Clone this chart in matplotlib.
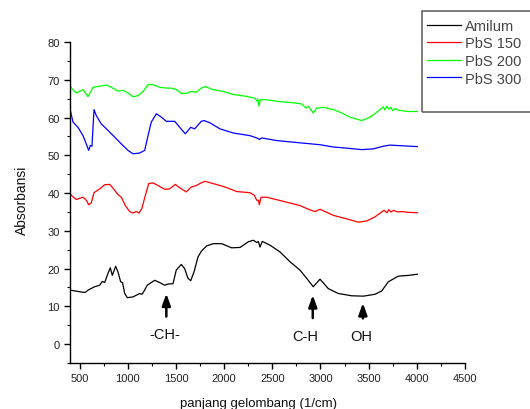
import matplotlib
matplotlib.use("Agg")
import matplotlib.pyplot as plt
from matplotlib.ticker import MultipleLocator
from matplotlib.patches import Rectangle

plt.rcParams['font.family'] = ['Liberation Sans', 'DejaVu Sans']

# ---- data ----
x_amilum = [400, 449, 517, 559, 587, 656, 708, 735, 760, 794, 818, 839, 874, 898, 926,
            945, 968, 995, 1054, 1123, 1147, 1168, 1202, 1244, 1279, 1331, 1383, 1417, 1469, 1503,
            1555, 1590, 1625, 1653, 1687, 1729, 1763, 1818, 1887, 1974, 2078, 2165, 2251, 2303, 2340,
            2355, 2372, 2396, 2476, 2580, 2684, 2787, 2857, 2925, 2995, 3081, 3185, 3324, 3445, 3566,
            3636, 3704, 3808, 3912, 4005]
y_amilum = [14.3, 14.1, 13.8, 13.7, 14.3, 15.2, 15.6, 16.6, 16.3, 18.7, 20.2, 18.2, 20.6, 19.1, 16.5,
            16.3, 13.4, 12.3, 12.5, 13.4, 13.2, 14.0, 15.6, 16.3, 16.9, 16.3, 15.6, 15.9, 16.0, 19.6,
            21.1, 20.0, 17.4, 16.8, 19.1, 23.1, 24.6, 26.0, 26.6, 26.6, 25.5, 25.6, 27.1, 27.5, 26.9,
            27.2, 25.7, 27.2, 26.2, 24.4, 21.8, 19.6, 17.4, 15.2, 17.2, 14.7, 13.4, 12.8, 12.7, 13.2,
            14.1, 16.5, 18.0, 18.2, 18.5]

x_pbs150 = [400, 413, 465, 535, 569, 594, 621, 649, 708, 760, 812, 846, 898, 933, 974,
            1019, 1054, 1088, 1116, 1147, 1182, 1217, 1262, 1313, 1383, 1434, 1493, 1539, 1607, 1659,
            1711, 1763, 1801, 1887, 2009, 2130, 2268, 2313, 2338, 2355, 2365, 2383, 2442, 2614, 2787,
            2874, 2943, 2995, 3133, 3237, 3393, 3480, 3566, 3636, 3660, 3690, 3710, 3730, 3760, 3800,
            3850, 3900, 4005]
y_pbs150 = [40.1, 39.4, 38.3, 38.9, 38.1, 36.9, 37.4, 40.1, 41.1, 42.2, 42.3, 41.3, 39.6, 38.9, 36.7,
            35.1, 34.7, 35.1, 34.7, 36.0, 39.4, 42.5, 42.7, 42.0, 41.0, 41.1, 42.3, 41.4, 40.3, 41.6,
            42.0, 42.7, 43.1, 42.5, 41.6, 40.4, 40.1, 39.4, 38.1, 38.1, 36.9, 38.9, 38.9, 37.8, 36.7,
            35.7, 35.1, 35.7, 34.1, 33.4, 32.3, 32.6, 33.7, 35.0, 35.4, 34.8, 35.6, 35.0, 35.4, 35.0,
            35.1, 34.9, 34.8]

x_pbs200 = [400, 413, 465, 535, 587, 639, 708, 777, 829, 898, 950, 1002, 1054, 1106, 1158,
            1210, 1262, 1331, 1400, 1452, 1503, 1555, 1607, 1659, 1711, 1763, 1801, 1887, 1991, 2095,
            2234, 2320, 2340, 2350, 2362, 2375, 2442, 2580, 2718, 2805, 2850, 2874, 2925, 2960, 3030,
            3133, 3203, 3306, 3428, 3514, 3584, 3636, 3650, 3670, 3690, 3710, 3730, 3750, 3775, 3800,
            3850, 3900, 4005]
y_pbs200 = [68.9, 67.8, 66.5, 67.4, 65.5, 68.0, 68.3, 68.6, 68.0, 67.0, 67.2, 66.5, 65.5, 65.8, 66.9,
            68.7, 68.7, 68.0, 67.8, 67.8, 67.4, 66.4, 66.4, 66.9, 66.7, 67.8, 68.2, 67.4, 66.9, 66.1,
            65.6, 65.1, 64.3, 65.0, 63.0, 64.7, 64.7, 64.2, 63.9, 63.6, 62.5, 63.0, 61.2, 62.5, 62.7,
            62.1, 61.4, 60.1, 59.2, 60.1, 61.4, 62.5, 62.8, 62.0, 63.0, 62.2, 62.7, 61.8, 62.4, 62.0,
            61.8, 61.6, 61.6]

x_pbs300 = [400, 431, 483, 535, 569, 594, 611, 628, 649, 673, 725, 794, 864, 933, 1002,
            1054, 1123, 1175, 1210, 1244, 1296, 1348, 1400, 1487, 1539, 1597, 1653, 1694, 1763, 1791,
            1853, 1956, 2095, 2268, 2338, 2365, 2390, 2545, 2787, 2995, 3133, 3272, 3428, 3548, 3652,
            3722, 4005]
y_pbs300 = [62.3, 58.8, 57.4, 55.2, 53.0, 51.3, 52.6, 52.4, 62.1, 60.5, 58.3, 56.6, 54.8, 53.0, 51.3,
            50.4, 50.6, 51.3, 55.2, 58.8, 61.0, 60.1, 59.0, 59.0, 57.4, 55.7, 57.4, 57.0, 59.0, 59.2,
            58.6, 57.0, 55.9, 55.2, 54.6, 54.2, 54.6, 53.9, 53.3, 52.8, 52.2, 51.9, 51.5, 51.7, 52.4,
            52.7, 52.3]

series_labels = ["Amilum", "PbS 150", "PbS 200", "PbS 300"]
series_colors = ["#000000", "#ff0000", "#00ff00", "#0000ff"]

# annotations: label, arrow x, arrow tail y, arrow tip y, text x, text y
annot_labels = ["-CH-", "C-H", "OH"]
annot_x = [1400, 2920, 3440]
annot_tail = [7.3, 6.9, 6.8]
annot_tip = [13.4, 13.0, 10.9]
annot_tx = [1386, 2839, 3428]
annot_ty = [2.8, 2.1, 2.1]

# ---- figure ----
W, H = 530, 410
fig = plt.figure(figsize=(W / 100, H / 100), dpi=100)
ax = fig.add_axes([70 / W, 1 - 364 / H, 395 / W, (364 - 43) / H])

xs = [x_amilum, x_pbs150, x_pbs200, x_pbs300]
ys = [y_amilum, y_pbs150, y_pbs200, y_pbs300]
handles = []
for xv, yv, lab, col in zip(xs, ys, series_labels, series_colors):
    h, = ax.plot(xv, yv, color=col, lw=0.9, label=lab)
    handles.append(h)

ax.set_xlim(400, 4500)
ax.set_ylim(-5, 80)
ax.xaxis.set_major_locator(MultipleLocator(500))
ax.xaxis.set_minor_locator(MultipleLocator(250))
ax.yaxis.set_major_locator(MultipleLocator(10))
ax.yaxis.set_minor_locator(MultipleLocator(5))
for s in ["top", "right"]:
    ax.spines[s].set_visible(False)
for s in ["left", "bottom"]:
    ax.spines[s].set_linewidth(1.0)
ax.tick_params(which="major", direction="out", length=4, width=1.0,
               labelsize=8, labelcolor="#222222")
ax.tick_params(which="minor", direction="out", length=2.5, width=0.8)

for lab, axx, tl, tp, tx, ty in zip(annot_labels, annot_x, annot_tail, annot_tip, annot_tx, annot_ty):
    ax.annotate("", xy=(axx, tp), xytext=(axx, tl),
                arrowprops=dict(arrowstyle="-|>,head_length=0.7,head_width=0.25",
                                lw=1.8, color="black", shrinkA=0, shrinkB=0))
    ax.text(tx, ty, lab, ha="center", va="center", fontsize=10.5, color="#111111")

fig.text(22 / W, 1 - 200 / H, "Absorbansi", rotation=90, ha="center", va="center",
         fontsize=10, color="#111111")
fig.text(258 / W, 1 - 404 / H, "panjang gelombang (1/cm)", ha="center", va="center",
         fontsize=9.5, color="#111111")

# legend
leg = fig.legend(handles, series_labels, loc="upper left",
                 bbox_to_anchor=(427 / W, 1 - 20 / H), frameon=False,
                 borderaxespad=0, borderpad=0, handlelength=2.3, handletextpad=0.3,
                 labelspacing=0.24, fontsize=10.5)
for t in leg.get_texts():
    t.set_color("#444444")
fig.add_artist(Rectangle((422 / W, 1 - 113 / H), 130 / W, 101 / H, transform=fig.transFigure,
                         fill=False, edgecolor="#666666", lw=1.2, clip_on=False))

fig.savefig("out.png", dpi=100)
